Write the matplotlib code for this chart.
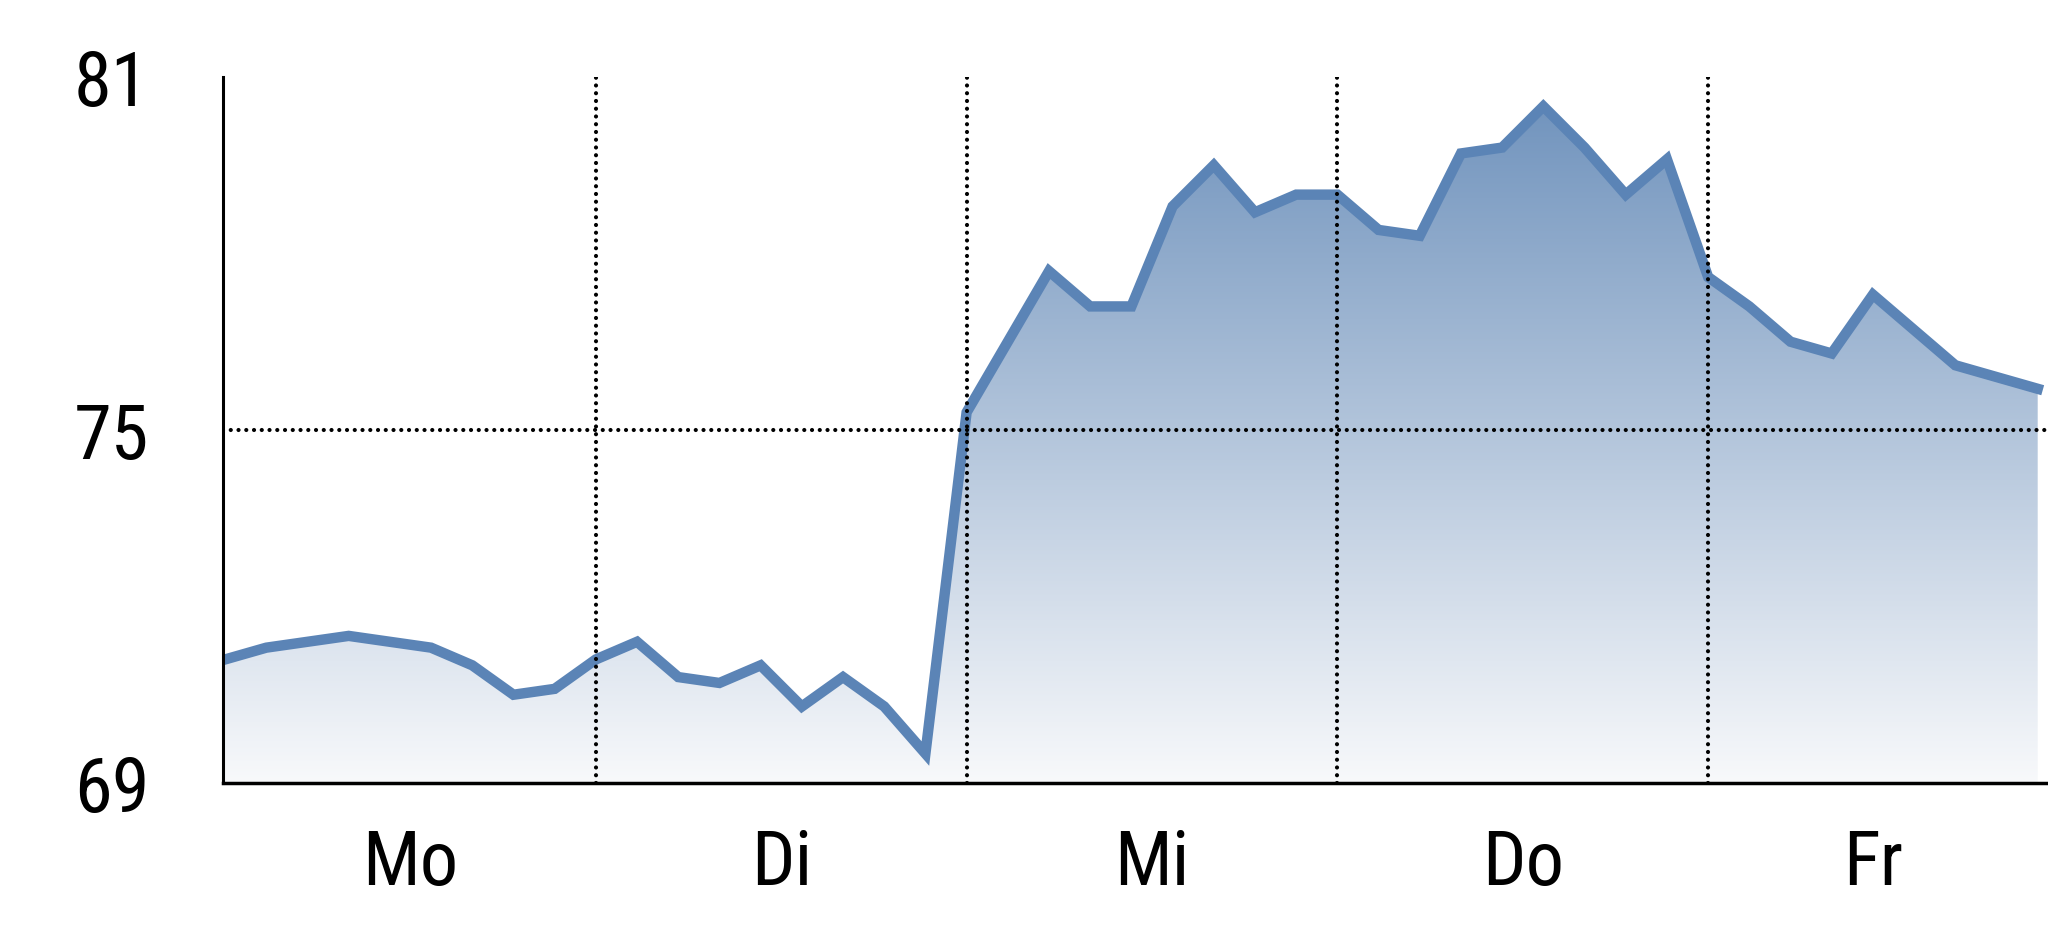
import numpy as np
import matplotlib
matplotlib.use("Agg")
import matplotlib.pyplot as plt
from matplotlib import font_manager
from matplotlib.colors import LinearSegmentedColormap

# look for a condensed sans, like the reference uses
fonts = [(f.name, f.stretch) for f in font_manager.fontManager.ttflist]
names = set(n for n, s in fonts)
condensed = sorted(set(n for n, s in fonts
                       if str(s) in ('condensed', 'semi-condensed', 'extra-condensed')
                       or (isinstance(s, int) and s < 500)))
fam = None
stretch = 'normal'
for cand in ['Liberation Sans Narrow', 'Roboto Condensed', 'Open Sans Condensed',
             'Noto Sans Condensed', 'Arial Narrow']:
    if cand in names:
        fam = cand
        break
if fam is None and condensed:
    fam = condensed[0]
    stretch = 'condensed'
if fam is None:
    fam = 'Liberation Sans'
plt.rcParams['font.family'] = [fam, 'DejaVu Sans']
plt.rcParams['font.stretch'] = stretch

# hourly values, 9 steps per trading day (last day partial)
values = [71.1, 71.3, 71.4, 71.5, 71.4, 71.3, 71.0, 70.5, 70.6,
          71.1, 71.4, 70.8, 70.7, 71.0, 70.3, 70.8, 70.3, 69.5,
          75.3, 76.5, 77.7, 77.1, 77.1, 78.8, 79.5, 78.7, 79.0,
          79.0, 78.4, 78.3, 79.7, 79.8, 80.5, 79.8, 79.0, 79.6,
          77.6, 77.1, 76.5, 76.3, 77.3, 76.7, 76.1, 75.9, 75.7]
days = ['Mo', 'Di', 'Mi', 'Do', 'Fr']
day_start = [0, 9, 18, 27, 36]
yticks = [69, 75, 81]

x = np.arange(len(values))
y = np.array(values)

fig = plt.figure(figsize=(20.48, 9.37), dpi=100)
ax = fig.add_axes([0.1089, 0.1633, 0.8911, 0.7535])
ax.set_xlim(-0.05, 44.25)
ax.set_ylim(69, 81)

# gradient fill under the line
cmap = LinearSegmentedColormap.from_list('g', ['#f8f9fb', '#6c90bb'])
grad = np.linspace(0, 1, 256).reshape(-1, 1)
poly = ax.fill_between(x, y, 69, color='none', lw=0)
img = ax.imshow(grad, cmap=cmap, aspect='auto', origin='lower',
                extent=[x[0], x[-1], 69, 81], zorder=1)
img.set_clip_path(poly.get_paths()[0], transform=ax.transData)

ax.plot(x, y, color='#5b84b6', lw=7.5, solid_joinstyle='miter', zorder=2)

# round dotted grid lines
dots = (0, (0.01, 1.85))
for b in day_start[1:]:
    ax.axvline(b, color='black', lw=3, linestyle=dots, dash_capstyle='round', zorder=3)
ax.axhline(75, color='black', lw=3, linestyle=dots, dash_capstyle='round', zorder=3)

ax.spines['top'].set_visible(False)
ax.spines['right'].set_visible(False)
ax.spines['left'].set_linewidth(2.2)
ax.spines['bottom'].set_linewidth(2.5)

ax.set_yticks(yticks)
ax.set_yticklabels([str(t) for t in yticks])
bounds = day_start + [len(values) - 1]
centers = [(bounds[i] + bounds[i + 1]) / 2 for i in range(len(days))]
ax.set_xticks(centers)
ax.set_xticklabels(days)
ax.tick_params(axis='both', length=0, labelsize=55)
ax.tick_params(axis='y', pad=53)
ax.tick_params(axis='x', pad=32)

fig.savefig('out.png', dpi=100)
